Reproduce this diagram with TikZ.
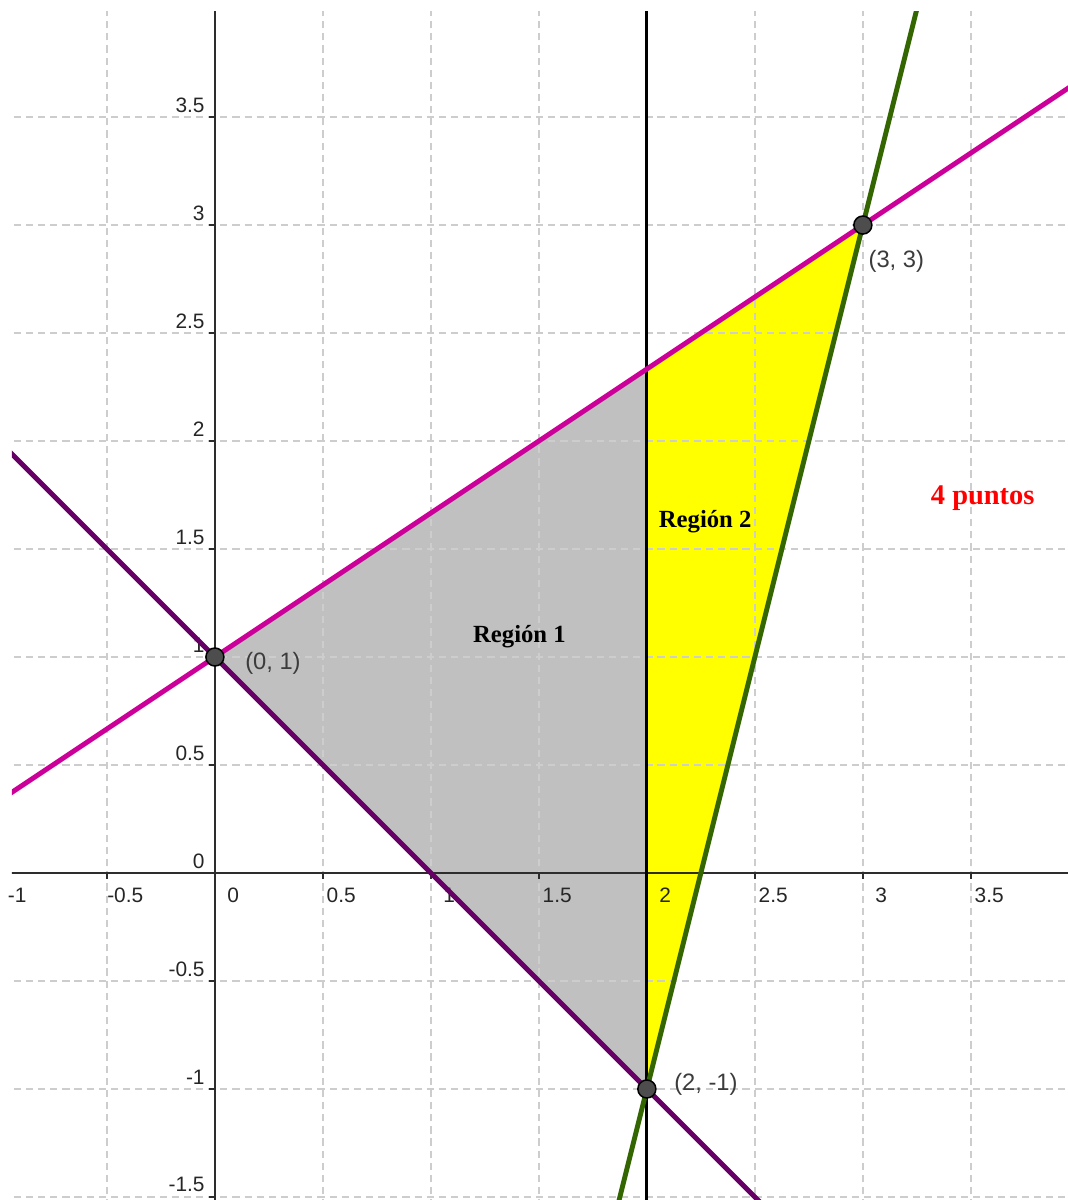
\documentclass[tikz,border=0pt]{standalone}
\usepackage{fontspec}
\setmainfont{Liberation Serif}
\newfontfamily\arialf{Liberation Sans}
\usetikzlibrary{calc}
\definecolor{magline}{RGB}{204,0,153}
\definecolor{purpline}{RGB}{102,0,102}
\definecolor{greenline}{RGB}{51,102,0}
\definecolor{regiongray}{RGB}{192,192,192}
\definecolor{regionyellow}{RGB}{255,255,0}
\definecolor{gridgray}{RGB}{205,205,205}
\definecolor{ptfill}{RGB}{77,77,77}
\definecolor{axisgray}{RGB}{45,45,45}
\definecolor{lblgray}{RGB}{60,60,60}
\tikzset{
  gridline/.style={draw=gridgray, line width=1pt, dash pattern=on 3.8pt off 2.6pt},
  axisline/.style={draw=axisgray, line width=1.2pt},
  tickline/.style={draw=axisgray, line width=1pt},
  funcline/.style={line width=2.6pt},
  ptnode/.style={circle, fill=ptfill, draw=black, line width=0.8pt, minimum size=9.5pt, inner sep=0pt},
  ticklbl/.style={font=\arialf\fontsize{11}{13}\selectfont, text=black!85, inner sep=0pt},
  ptlbl/.style={font=\arialf\fontsize{12.5}{15}\selectfont, text=lblgray, inner sep=0pt, anchor=west},
  reglbl/.style={font=\bfseries\fontsize{13}{15}\selectfont, text=black, inner sep=0pt}
}
\begin{document}
\begin{tikzpicture}[x=4cm,y=4cm]
\useasboundingbox[fill=white] (-0.995,-1.514) rectangle (3.949,4.042);
\coordinate (A) at (0,1);
\coordinate (B) at (3,3);
\coordinate (C) at (2,-1);
\coordinate (D) at (2,7/3);
\begin{scope}
\clip (-0.94,-1.52) rectangle (3.96,3.99);
% regions
\fill[regiongray] (A) -- (D) -- (C) -- cycle;
\fill[regionyellow] (D) -- (B) -- (C) -- cycle;
% grid
\foreach \v in {-0.5,0.5,1,1.5,2.5,3,3.5}
  \draw[gridline] (\v,-1.6) -- (\v,4.1);
\foreach \v in {-1.5,-1,-0.5,0.5,1,1.5,2,2.5,3,3.5}
  \draw[gridline] (-1.1,\v) -- (4.1,\v);
% axes
\draw[axisline] (-1.1,0) -- (4.1,0);
\draw[axisline] (0,-1.6) -- (0,4.1);
\foreach \v in {-0.5,0.5,1,1.5,2,2.5,3,3.5}
  \draw[tickline] (\v,0) -- (\v,-0.028);
\foreach \v in {-1.5,-1,-0.5,0.5,1,1.5,2,2.5,3,3.5}
  \draw[tickline] (0,\v) -- (-0.028,\v);
\end{scope}
% tick labels
\foreach \v/\t in {-1/-1,-0.5/-0.5,0/0,0.5/0.5,1/1,1.5/1.5,2/2,2.5/2.5,3/3,3.5/3.5}
  \node[ticklbl] (xl\t) at (\v+0.085,-0.102) {\t};
\foreach \v/\t in {-1.5/-1.5,-1/-1,-0.5/-0.5,0/0,0.5/0.5,1/1,1.5/1.5,2/2,2.5/2.5,3/3,3.5/3.5}
  \node[ticklbl, anchor=east] (yl\t) at (-0.046,\v+0.056) {\t};
\begin{scope}
\clip (-0.94,-1.52) rectangle (3.96,3.99);
% lines
\draw[funcline, black, line width=1.5pt] (2,-1.6) -- (2,4.1);
\draw[funcline, magline] ($(A)!-1!(B)$) -- ($(A)!2!(B)$);
\draw[funcline, purpline] ($(A)!-1!(C)$) -- ($(A)!2!(C)$);
\draw[funcline, greenline] ($(C)!-1!(B)$) -- ($(C)!2!(B)$);
\end{scope}
% points
\node[ptnode] (pA) at (A) {};
\node[ptnode] (pB) at (B) {};
\node[ptnode] (pC) at (C) {};
\node[ptlbl] (lA) at (0.139,0.97) {(0, 1)};
\node[ptlbl] (lB) at (3.025,2.83) {(3, 3)};
\node[ptlbl] (lC) at (2.125,-0.98) {(2, -1)};
% region labels
\node[reglbl] (r1) at (1.41,1.093) {Región 1};
\node[reglbl] (r2) at (2.27,1.625) {Región 2};
\node[font=\bfseries\fontsize{15}{17}\selectfont, text=red, inner sep=0pt] (pts) at (3.555,1.736) {4 puntos};
\end{tikzpicture}
\end{document}
